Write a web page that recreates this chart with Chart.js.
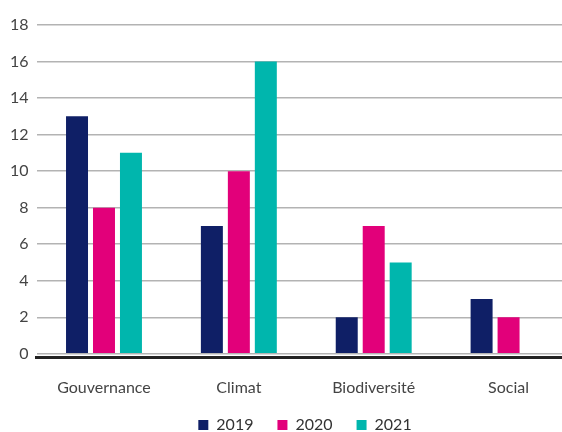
<!DOCTYPE html>
<html>
<head>
<meta charset="utf-8">
<script src="https://cdn.jsdelivr.net/npm/chart.js@4"></script>
<style>
    html, body { margin: 0; padding: 0; background: #fff; overflow: hidden; }
    #wrap { position: relative; width: 578px; height: 432px; }
</style>
</head>
<body>
<div id="wrap"><canvas id="chart"></canvas></div>
<script>
/* =========================
   DATA
========================= */

const categories = ["Gouvernance", "Climat", "Biodiversité", "Social"];

const values2019 = [13, 7, 2, 3];
const values2020 = [8, 10, 7, 2];
const values2021 = [11, 16, 5, null];

const yTicks = [0, 2, 4, 6, 8, 10, 12, 14, 16, 18];

/* =========================
   CHART
========================= */

const fontFamily = "Lato, 'Open Sans', sans-serif";

// the legend sits a little right of the canvas centre in the reference
const shiftLegend = {
    id: "shiftLegend",
    afterLayout: chart => {
        chart.legend.left += 16;
        chart.legend.right += 16;
    }
};

new Chart(document.getElementById("chart"), {

    type: "bar",

    data: {
        labels: categories,
        datasets: [
            { label: "2019", data: values2019, backgroundColor: "#0f1f66" },
            { label: "2020", data: values2020, backgroundColor: "#e2007a" },
            { label: "2021", data: values2021, backgroundColor: "#00b6ad" }
        ]
    },

    options: {
        responsive: true,
        maintainAspectRatio: false,
        animation: false,
        datasets: {
            bar: {
                categoryPercentage: 0.6,
                barPercentage: 0.815
            }
        },
        layout: {
            padding: { top: 25, left: 2, right: 2, bottom: -11 }
        },
        plugins: {
            tooltip: { enabled: false },
            legend: {
                position: "bottom",
                labels: {
                    color: "#333",
                    font: { family: fontFamily, size: 16 },
                    boxWidth: 10,
                    boxHeight: 10,
                    padding: 24
                }
            }
        },
        scales: {
            x: {
                grid: { display: false, drawTicks: false },
                border: { color: "#222", width: 3 },
                ticks: {
                    color: "#444",
                    padding: 20,
                    font: { family: fontFamily, size: 16 }
                },
                afterFit: scale => {
                    scale.height -= 24;
                }
            },
            y: {
                min: -0.22,
                max: 18,
                afterBuildTicks: scale => {
                    scale.ticks = yTicks.map(v => ({ value: v }));
                },
                grid: { color: "#b3b3b3", lineWidth: 1.5, drawTicks: false },
                border: { display: false },
                ticks: {
                    color: "#444",
                    padding: 8,
                    font: { family: fontFamily, size: 16 }
                }
            }
        }
    },

    plugins: [shiftLegend]

});
</script>
</body>
</html>
